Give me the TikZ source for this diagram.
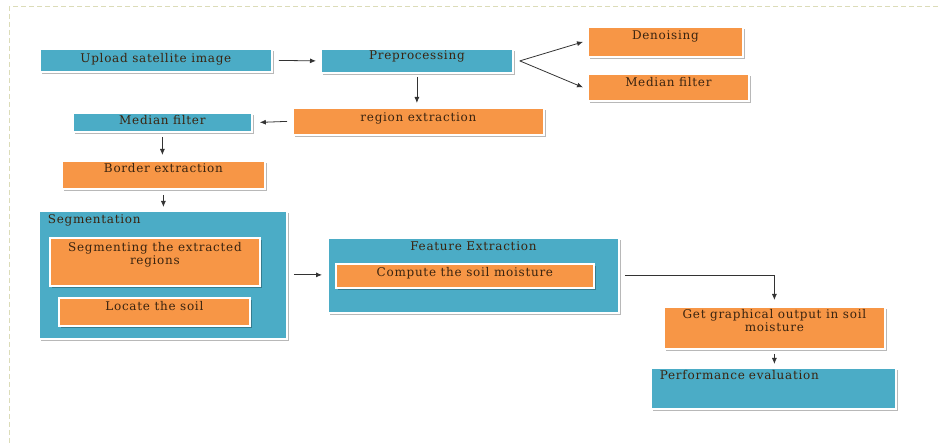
\documentclass[tikz,border=0pt]{standalone}
\usepackage{fontspec}
\setmainfont[LetterSpace=6]{DejaVu Serif}
\usetikzlibrary{arrows.meta,shadows,calc}
\definecolor{cblue}{HTML}{4BACC6}
\definecolor{corange}{HTML}{F79646}
\definecolor{ctext}{HTML}{3A2410}
\definecolor{cdash}{HTML}{DCDCB8}
\definecolor{carrow}{HTML}{333333}
\begin{document}
\begin{tikzpicture}[x=1pt,y=-1pt,
  bx/.style={anchor=north west, inner xsep=0pt, inner ysep=0pt, align=center,
    draw=white, line width=1.8pt, text=ctext,
    font=\fontsize{12}{12}\selectfont,
    drop shadow={shadow xshift=2.4pt, shadow yshift=-2.4pt, fill=black, opacity=0.28}},
  bbox/.style={bx, fill=cblue},
  obox/.style={bx, fill=corange},
  arr/.style={draw=carrow, line width=0.8pt, -{Latex[length=6pt,width=5pt]}}]
\useasboundingbox (0,0) rectangle (938,446);
\draw[cdash, line width=1pt, dash pattern=on 5pt off 3pt] (938,7) -- (9,7) -- (9,446);

\node[bbox, minimum width=232pt, text height=14pt, text depth=9pt] (up) at (39,48) {Upload satellite image};
\node[bbox, minimum width=192pt, text height=11pt, text depth=13pt] (pre) at (320,48) {Preprocessing};
\node[obox, minimum width=155pt, text height=13pt, text depth=17pt] (den) at (587,26) {Denoising};
\node[obox, minimum width=161pt, text height=13pt, text depth=14pt] (medR) at (587,73) {Median filter};
\node[obox, minimum width=251pt, text height=14pt, text depth=13pt] (reg) at (292,107) {region extraction};
\node[bbox, minimum width=179pt, text height=12pt, text depth=7pt] (medL) at (72,112) {Median filter};
\node[obox, minimum width=203pt, text height=12pt, text depth=16pt] (bor) at (61,160) {Border extraction};

\node[bbox, text width=230pt, inner xsep=9pt, align=left, text height=13pt, text depth=115pt] (seg) at (38,210) {Segmentation};
\node[obox, minimum width=210pt, text height=14pt, text depth=34pt] (sega) at (49,237)
  {\begin{tabular}[t]{@{}c@{}}Segmenting the extracted\\regions\end{tabular}};
\node[obox, minimum width=191pt, text height=13pt, text depth=15pt] (loc) at (58,297) {Locate the soil};

\node[bbox, minimum width=291pt, text height=13pt, text depth=62pt] (feat) at (327,237) {Feature Extraction};
\node[obox, minimum width=258pt, text height=13pt, text depth=11pt] (comp) at (335,263) {Compute the soil moisture};

\node[obox, minimum width=221pt, text height=12pt, text depth=30pt] (get) at (663,306)
  {\begin{tabular}[t]{@{}c@{}}Get graphical output in soil\\moisture\end{tabular}};
\node[bbox, text width=227pt, inner xsep=9pt, align=left, text height=12pt, text depth=29pt] (perf) at (650,367) {Performance evaluation};

\draw[arr] ([xshift=6pt]up.east) -- ([xshift=-4pt]pre.west);
\draw[arr] ([xshift=6pt]pre.east) -- ([xshift=-4pt]den.west);
\draw[arr] ([xshift=6pt]pre.east) -- ([xshift=-4pt]medR.west);
\draw[arr] ([yshift=-3pt]pre.south) -- ([yshift=4pt]pre.south |- reg.north);
\draw[arr] ([xshift=-5pt]reg.west) -- ([xshift=7pt]medL.east);
\draw[arr] ([yshift=-4pt]medL.south) -- ([yshift=5pt]medL.south |- bor.north);
\draw[arr] ([yshift=-5pt]bor.south) -- ([yshift=3pt]bor.south |- seg.north);
\draw[arr] ([xshift=6pt]seg.east) -- ([xshift=-5pt]seg.east -| feat.west);
\draw[arr] ([xshift=5pt]feat.east) -| ([yshift=6pt]get.north);
\draw[arr] ([yshift=-4pt]get.south) -- ([yshift=3pt]get.south |- perf.north);
\end{tikzpicture}
\end{document}
